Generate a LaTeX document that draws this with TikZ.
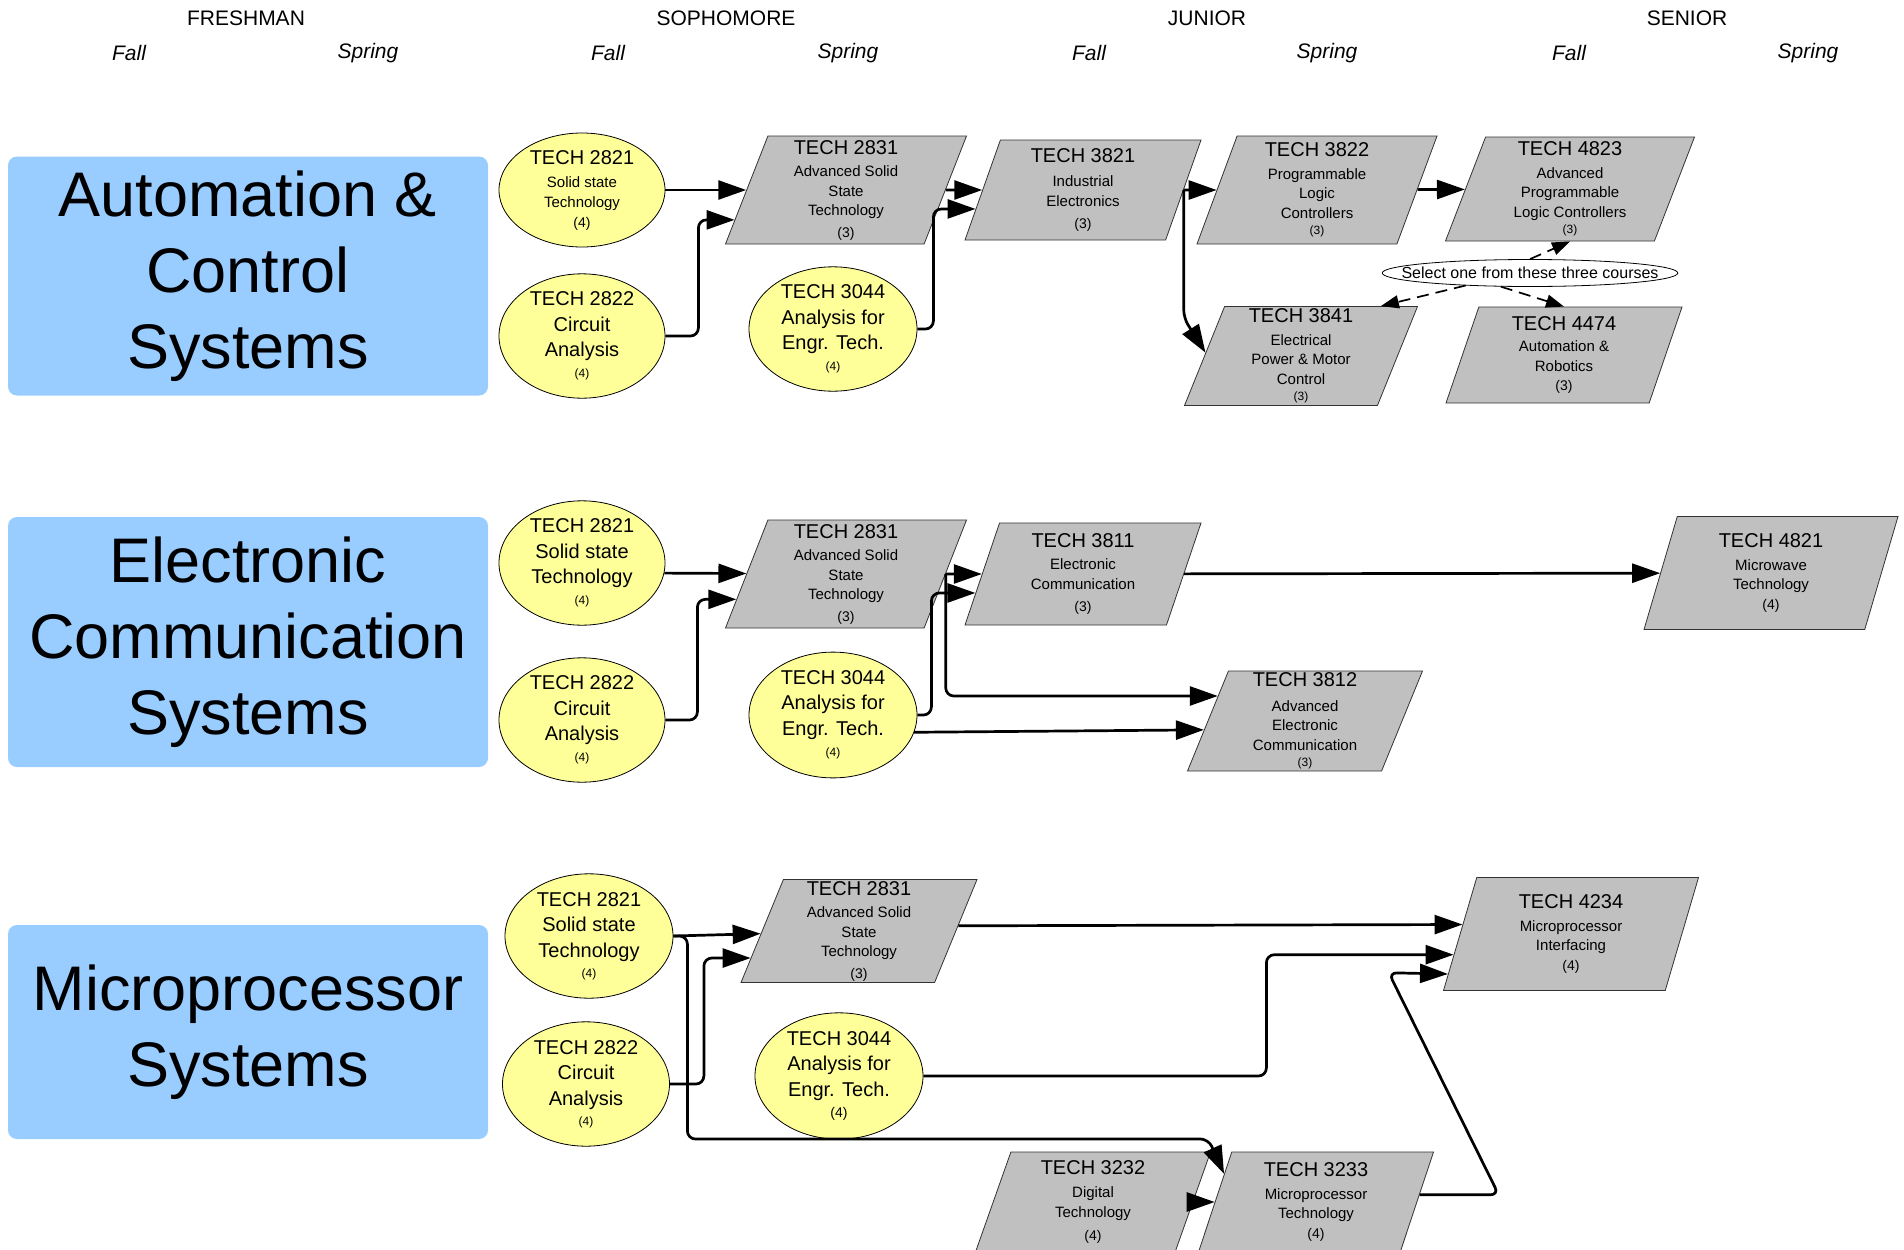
\documentclass[tikz,border=0pt]{standalone}
\usepackage{fontspec}
\setmainfont{Liberation Sans}
\usetikzlibrary{shapes.geometric,arrows.meta}
\definecolor{cyel}{HTML}{FFFF99}
\definecolor{cgry}{HTML}{C0C0C0}
\definecolor{cblu}{HTML}{99CCFF}
\newcommand\Tc[1]{{\fontsize{20}{20}\selectfont #1}}
\newcommand\Cr[1]{{\fontsize{12}{12}\selectfont #1}}
\newcommand\Cm[1]{{\fontsize{14}{14}\selectfont #1}}
\tikzset{
  oval/.style={ellipse, draw=black, fill=cyel, line width=0.8pt, inner sep=0pt, align=center, font=\fontsize{20}{25.5}\selectfont},
  ovals/.style={oval, font=\fontsize{15}{20}\selectfont},
  para/.style={trapezium, trapezium left angle=67, trapezium right angle=113, trapezium stretches body=true,
    draw=black!80, fill=cgry, line width=0.8pt, inner sep=0pt, align=center, font=\fontsize{15}{19.5}\selectfont},
  lab/.style={rectangle, rounded corners=9pt, fill=cblu, draw=none, inner sep=0pt, align=center, minimum width=480pt, font=\fontsize{63}{76}\selectfont},
  yr/.style={font=\fontsize{21}{21}\selectfont},
  sem/.style={font=\fontsize{21}{21}\selectfont\itshape},
  arr/.style={line width=2.7pt, -{Triangle[length=28pt,width=19pt]}, rounded corners=8pt},
  dsh/.style={line width=1.7pt, dash pattern=on 12pt off 7pt, -{Triangle[length=18pt,width=13pt]}},
}
\begin{document}
\begin{tikzpicture}[x=1pt,y=-1pt]
\useasboundingbox (0,0) rectangle (1904,1250);
% headers
\node[yr] (h1) at (246,18) {FRESHMAN};
\node[yr] (h2) at (726,18) {SOPHOMORE};
\node[yr] (h3) at (1207,18) {JUNIOR};
\node[yr] (h4) at (1687,18) {SENIOR};
\node[sem] (s1) at (129,53) {Fall};
\node[sem] (s2) at (368,53) {Spring};
\node[sem] (s3) at (608,53) {Fall};
\node[sem] (s4) at (848,53) {Spring};
\node[sem] (s5) at (1089,53) {Fall};
\node[sem] (s6) at (1327,53) {Spring};
\node[sem] (s7) at (1569,53) {Fall};
\node[sem] (s8) at (1808,53) {Spring};
% labels
\node[lab, minimum height=239pt] (l1) at (248,276) {Automation \&\\Control\\Systems};
\node[lab, minimum height=250pt] (l2) at (248,642) {Electronic\\Communication\\Systems};
\node[lab, minimum height=214pt] (l3) at (248,1032) {Microprocessor\\Systems};
% ---- row 1
\node[ovals, minimum width=166pt, minimum height=114pt] (a2821) at (582,190) {\Tc{TECH 2821}\\[3pt]Solid state\\Technology\\\Cm{(4)}};
\node[oval, minimum width=166pt, minimum height=110pt] (a2822) at (582,336) {TECH 2822\\Circuit\\Analysis\\[-5pt]\Cr{(4)}};
\node[oval, minimum width=168pt, minimum height=114pt] (a3044) at (833,329) {TECH 3044\\Analysis for\\Engr. Tech.\\[-5pt]\Cr{(4)}};
\node[para, minimum width=241pt, minimum height=108pt] (a2831) at (846,190) {\Tc{TECH 2831}\\[3pt]Advanced Solid\\State\\Technology\\[2pt]\Cm{(3)}};
\node[para, minimum width=236pt, minimum height=100pt] (a3821) at (1083,190) {\Tc{TECH 3821}\\[5pt]Industrial\\Electronics\\[3pt]\Cm{(3)}};
\node[para, minimum width=240pt, minimum height=108pt] (a3822) at (1317,190) {\Tc{TECH 3822}\\[3pt]Programmable\\Logic\\Controllers\\[-3pt]\Cr{(3)}};
\node[para, minimum width=249pt, minimum height=104pt] (a4823) at (1570,189) {\Tc{TECH 4823}\\[3pt]Advanced\\Programmable\\Logic Controllers\\[-3pt]\Cr{(3)}};
\node[para, minimum width=233pt, minimum height=99pt] (a3841) at (1301,356) {\Tc{TECH 3841}\\[3pt]Electrical\\Power \& Motor\\Control\\[-3pt]\Cr{(3)}};
\node[para, minimum width=236pt, minimum height=96pt] (a4474) at (1564,355) {\Tc{TECH 4474}\\[2pt]Automation \&\\Robotics\\\Cm{(3)}};
\node[ellipse, draw=black, fill=white, line width=0.8pt, inner xsep=-24pt, inner ysep=2pt, minimum height=27pt, font=\fontsize{16}{16}\selectfont] (asel) at (1530,273) {Select one from these three courses};
\draw[arr] (a2821) -- (a2831);
\draw[arr] (a2822.east) -- ++(33,0) |- (a2831.195);
\draw[arr] (a2831) -- (a3821);
\draw[arr] (a3044.east) -- ++(16,0) |- (a3821.190);
\draw[arr] (a3821) -- (a3822);
\draw[arr] (a3822) -- (a4823);
\draw[arr] (a3821.east) -- ++(0,128) -- (a3841.178);
\draw[dsh] (asel.north) -- (a4823.south);
\draw[dsh] (asel.191) -- (a3841.32);
\draw[dsh] (asel.205) -- (a4474.north);
% ---- row 2
\node[oval, minimum width=166pt, minimum height=119pt] (b2821) at (582,563) {TECH 2821\\Solid state\\Technology\\[-5pt]\Cr{(4)}};
\node[oval, minimum width=166pt, minimum height=118pt] (b2822) at (582,720) {TECH 2822\\Circuit\\Analysis\\[-5pt]\Cr{(4)}};
\node[oval, minimum width=168pt, minimum height=115pt] (b3044) at (833,715) {TECH 3044\\Analysis for\\Engr. Tech.\\[-4pt]\Cr{(4)}};
\node[para, minimum width=241pt, minimum height=108pt] (b2831) at (846,574) {\Tc{TECH 2831}\\[3pt]Advanced Solid\\State\\Technology\\[2pt]\Cm{(3)}};
\node[para, minimum width=236pt, minimum height=102pt] (b3811) at (1083,574) {\Tc{TECH 3811}\\[3pt]Electronic\\Communication\\[3pt]\Cm{(3)}};
\node[para, minimum width=235pt, minimum height=100pt] (b3812) at (1305,721) {\Tc{TECH 3812}\\[5pt]Advanced\\Electronic\\Communication\\[-3pt]\Cr{(3)}};
\node[para, minimum width=254pt, minimum height=113pt] (b4821) at (1771,573) {\Tc{TECH 4821}\\[3pt]Microwave\\Technology\\\Cm{(4)}};
\draw[arr] (b2821.353) -- (b2831);
\draw[arr] (b2822.east) -- ++(32,0) |- (b2831.193);
\draw[arr] (b2831) -- (b3811);
\draw[arr] (b2831.east) |- (b3812.164);
\draw[arr] (b3044.east) -- ++(14,0) |- (b3811.190);
\draw[arr] (b3044.348) -- (b3812.185);
\draw[arr] (b3811) -- (b4821);
% ---- row 3
\node[oval, minimum width=168pt, minimum height=108pt] (c2821) at (589,936) {TECH 2821\\Solid state\\Technology\\[-5pt]\Cr{(4)}};
\node[oval, minimum width=167pt, minimum height=110pt] (c2822) at (586,1084) {TECH 2822\\Circuit\\Analysis\\[-5pt]\Cr{(4)}};
\node[oval, minimum width=168pt, minimum height=112pt] (c3044) at (839,1076) {TECH 3044\\Analysis for\\Engr. Tech.\\[-4pt]\Cm{(4)}};
\node[para, minimum width=236pt, minimum height=103pt] (c2831) at (859,931) {\Tc{TECH 2831}\\[3pt]Advanced Solid\\State\\Technology\\[2pt]\Cm{(3)}};
\node[para, minimum width=255pt, minimum height=113pt] (c4234) at (1571,934) {\Tc{TECH 4234}\\[3pt]Microprocessor\\Interfacing\\\Cm{(4)}};
\node[para, minimum width=235pt, minimum height=100pt] (c3232) at (1093,1202) {\Tc{TECH 3232}\\[4pt]Digital\\Technology\\[4pt]\Cm{(4)}};
\node[para, minimum width=235pt, minimum height=100pt] (c3233) at (1316,1202) {\Tc{TECH 3233}\\[3pt]Microprocessor\\Technology\\\Cm{(4)}};
\draw[arr] (c2821.east) -- (c2831);
\draw[arr] (c2822.east) -- ++(34,0) |- (c2831.194);
\draw[arr] (c2821.east) -- ++(14,0) -- ++(0,203) -- ++(521,0) -- (c3233.163);
\draw[arr] (c2831.3) -- (c4234.175);
\draw[arr] (c3044.east) -- ++(343,0) |- (c4234.190);
\draw[arr] (c3232) -- (c3233);
\draw[arr] (c3233.4) -- ++(79,0) -- ++(-110,-222) -- (c4234.198);
\end{tikzpicture}
\end{document}
